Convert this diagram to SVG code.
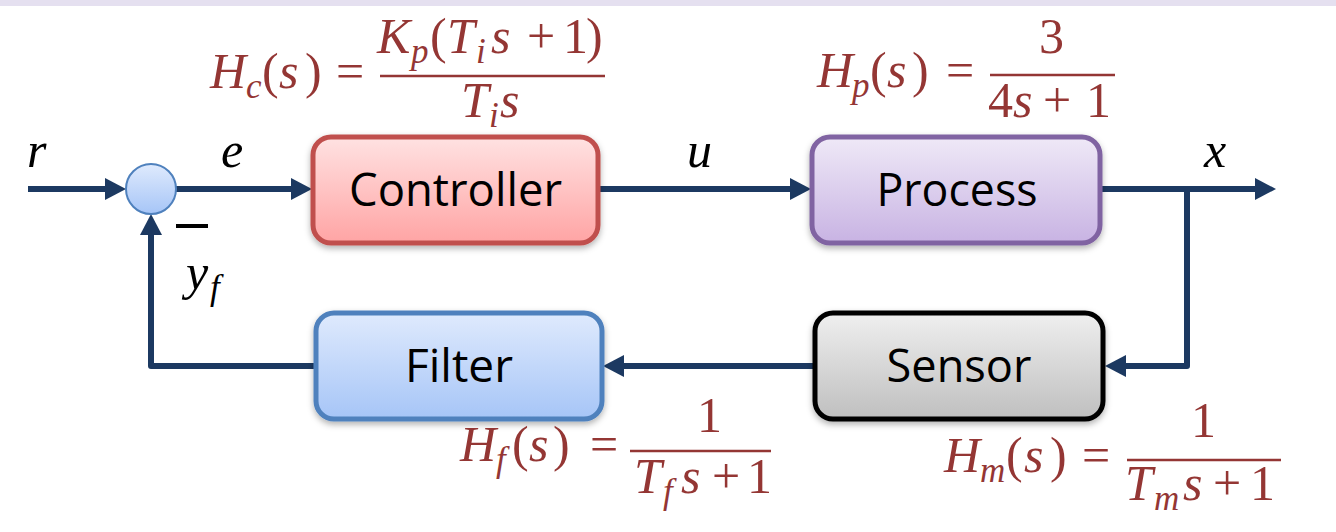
<svg xmlns="http://www.w3.org/2000/svg" width="1336" height="532" viewBox="0 0 1336 532">
<defs>
<style>
.box{stroke-width:5}
.lbl{font-family:"Open Sans","Noto Sans",sans-serif;font-size:46px;fill:#000;text-anchor:middle}
.m{font-family:"Liberation Serif",serif;font-size:50px;fill:#943634}
.v{font-family:"Liberation Serif",serif;font-size:50px;fill:#000;font-style:italic}
.i{font-style:italic}
.sub{font-size:35px;font-style:italic}
.con{fill:none;stroke:#1c3961;stroke-width:6;stroke-linejoin:round}
.bar{stroke:#943634;stroke-width:2.5}
</style>
<linearGradient id="gRed" x1="0" y1="0" x2="0" y2="1"><stop offset="0" stop-color="#ffe2e2"/><stop offset="1" stop-color="#ffa4a4"/></linearGradient>
<linearGradient id="gPur" x1="0" y1="0" x2="0" y2="1"><stop offset="0" stop-color="#efe9f7"/><stop offset="1" stop-color="#c8b3e3"/></linearGradient>
<linearGradient id="gGry" x1="0" y1="0" x2="0" y2="1"><stop offset="0" stop-color="#efefef"/><stop offset="1" stop-color="#bfbfbf"/></linearGradient>
<linearGradient id="gBlu" x1="0" y1="0" x2="0" y2="1"><stop offset="0" stop-color="#dfeafd"/><stop offset="1" stop-color="#a6c5f7"/></linearGradient>
<filter id="sh" x="-10%" y="-10%" width="120%" height="130%"><feDropShadow dx="0" dy="3" stdDeviation="3" flood-color="#000" flood-opacity="0.3"/></filter>
<marker id="ah" markerUnits="userSpaceOnUse" viewBox="0 0 21 22" markerWidth="21" markerHeight="22" refX="0" refY="11" orient="auto"><path d="M0,0 L21,11 L0,22 Z" fill="#1c3961"/></marker>
</defs>
<rect x="0" y="0" width="1336" height="6" fill="#e5e0f0"/>

<g id="connectors">
<path class="con" d="M28,189 H105" marker-end="url(#ah)"/>
<path class="con" d="M176,189 H291" marker-end="url(#ah)"/>
<path class="con" d="M598,189 H790" marker-end="url(#ah)"/>
<path class="con" d="M1100,189 H1255" marker-end="url(#ah)"/>
<path class="con" d="M1187,189 V366 H1126" marker-end="url(#ah)"/>
<path class="con" d="M815,366 H624" marker-end="url(#ah)"/>
<path class="con" d="M316,366 H151 V235" marker-end="url(#ah)"/>
</g>

<g id="sum">
<circle cx="151" cy="189" r="25" fill="url(#gBlu)" stroke="#4f81bd" stroke-width="2"/>
<rect x="176" y="224" width="32" height="4" fill="#000"/>
</g>

<g id="controller">
<rect class="box" x="313" y="137" width="285" height="106" rx="18" fill="url(#gRed)" stroke="#c0504d" filter="url(#sh)"/>
<text class="lbl" x="455.5" y="206" textLength="213" lengthAdjust="spacingAndGlyphs">Controller</text>
</g>
<g id="process">
<rect class="box" x="812" y="137" width="288" height="106" rx="18" fill="url(#gPur)" stroke="#8064a2" filter="url(#sh)"/>
<text class="lbl" x="957" y="206" textLength="161" lengthAdjust="spacingAndGlyphs">Process</text>
</g>
<g id="sensor">
<rect class="box" x="815" y="313" width="288" height="106" rx="18" fill="url(#gGry)" stroke="#000" filter="url(#sh)"/>
<text class="lbl" x="959" y="382" textLength="145" lengthAdjust="spacingAndGlyphs">Sensor</text>
</g>
<g id="filter">
<rect class="box" x="316" y="313" width="286" height="106" rx="18" fill="url(#gBlu)" stroke="#4f81bd" filter="url(#sh)"/>
<text class="lbl" x="459" y="382" textLength="108" lengthAdjust="spacingAndGlyphs">Filter</text>
</g>

<g id="signals">
<text class="v" x="27" y="167">r</text>
<text class="v" x="221" y="167">e</text>
<text class="v" x="687" y="167">u</text>
<text class="v" x="1204" y="167">x</text>
<text class="v" x="186" y="289">y<tspan class="sub" x="210" y="299">f</tspan></text>
</g>

<g id="eq-controller">
<text class="m"><tspan class="i" x="210" y="88">H</tspan><tspan class="sub" x="246" y="98">c</tspan><tspan x="262" y="88">(</tspan><tspan class="i" x="279" y="88">s</tspan><tspan x="305" y="88">)</tspan><tspan x="336" y="88">=</tspan></text>
<line class="bar" x1="380" y1="76" x2="605" y2="76"/>
<text class="m"><tspan class="i" x="377" y="53">K</tspan><tspan class="sub" x="411" y="63">p</tspan><tspan x="430" y="53">(</tspan><tspan class="i" x="447" y="53">T</tspan><tspan class="sub" x="476" y="63">i</tspan><tspan class="i" x="491" y="53">s</tspan><tspan x="527" y="53">+</tspan><tspan x="563" y="53">1</tspan><tspan x="586" y="53">)</tspan></text>
<text class="m"><tspan class="i" x="461" y="117">T</tspan><tspan class="sub" x="489" y="127">i</tspan><tspan class="i" x="500" y="117">s</tspan></text>
</g>

<g id="eq-process">
<text class="m"><tspan class="i" x="817" y="87">H</tspan><tspan class="sub" x="852" y="97">p</tspan><tspan x="870" y="87">(</tspan><tspan class="i" x="887" y="87">s</tspan><tspan x="912" y="87">)</tspan><tspan x="946" y="87">=</tspan></text>
<line class="bar" x1="990" y1="75" x2="1115" y2="75"/>
<text class="m"><tspan x="1039" y="53">3</tspan></text>
<text class="m"><tspan x="988" y="117">4</tspan><tspan class="i" x="1013" y="117">s</tspan><tspan x="1043" y="117">+</tspan><tspan x="1086" y="117">1</tspan></text>
</g>

<g id="eq-filter">
<text class="m"><tspan class="i" x="460" y="461">H</tspan><tspan class="sub" x="496" y="471">f</tspan><tspan x="512" y="461">(</tspan><tspan class="i" x="529" y="461">s</tspan><tspan x="553" y="461">)</tspan><tspan x="590" y="461">=</tspan></text>
<line class="bar" x1="630" y1="451" x2="771" y2="451"/>
<text class="m"><tspan x="697" y="432">1</tspan></text>
<text class="m"><tspan class="i" x="634" y="493">T</tspan><tspan class="sub" x="663" y="503">f</tspan><tspan class="i" x="681" y="493">s</tspan><tspan x="712" y="493">+</tspan><tspan x="747" y="493">1</tspan></text>
</g>

<g id="eq-sensor">
<text class="m"><tspan class="i" x="944" y="472">H</tspan><tspan class="sub" x="980" y="482">m</tspan><tspan x="1006" y="472">(</tspan><tspan class="i" x="1024" y="472">s</tspan><tspan x="1050" y="472">)</tspan><tspan x="1082" y="472">=</tspan></text>
<line class="bar" x1="1127" y1="460" x2="1281" y2="460"/>
<text class="m"><tspan x="1191" y="437">1</tspan></text>
<text class="m"><tspan class="i" x="1125" y="500">T</tspan><tspan class="sub" x="1154" y="510">m</tspan><tspan class="i" x="1183" y="500">s</tspan><tspan x="1213" y="500">+</tspan><tspan x="1250" y="500">1</tspan></text>
</g>
</svg>
